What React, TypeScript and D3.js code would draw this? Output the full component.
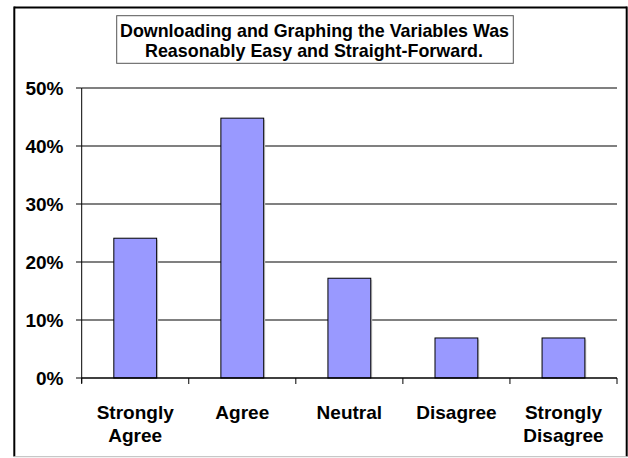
import React from "react";
import * as d3 from "d3";

const categories: string[][] = [
  ["Strongly", "Agree"],
  ["Agree"],
  ["Neutral"],
  ["Disagree"],
  ["Strongly", "Disagree"],
];
const values: number[] = [24.1, 44.8, 17.2, 6.9, 6.9];
const yTicks: number[] = [0, 10, 20, 30, 40, 50];
const titleLines: string[] = [
  "Downloading and Graphing the Variables Was",
  "Reasonably Easy and Straight-Forward.",
];

const W = 628;
const H = 458;
const plot = { left: 81.7, right: 617, top: 88, bottom: 378 };
const FONT = "'Liberation Sans', Arial, sans-serif";

export default function App() {
  const x = d3
    .scaleBand<number>()
    .domain(values.map((_, i) => i))
    .range([plot.left, plot.right])
    .paddingInner(0.6)
    .paddingOuter(0.3);
  const y = d3.scaleLinear().domain([0, 50]).range([plot.bottom, plot.top]);
  const n = values.length;
  const cw = (plot.right - plot.left) / n;
  const boundaries = d3.range(n + 1).map((i) => plot.left + i * cw);
  const centers = values.map((_, i) => (x(i) as number) + x.bandwidth() / 2);
  const bw = cw / 2.5;

  return (
    <svg
      width={W}
      height={H}
      style={{ position: "absolute", left: 0, top: 0, display: "block", background: "#fff" }}
      fontFamily={FONT}
    >
      <rect x={0} y={0} width={W} height={H} fill="#fff" />
      {/* outer border */}
      <line x1={14.3} y1={7.5} x2={626.7} y2={7.5} stroke="#000" strokeWidth={2} />
      <line x1={14.3} y1={6.5} x2={14.3} y2={456.5} stroke="#000" strokeWidth={2} />
      <line x1={626.7} y1={6.5} x2={626.7} y2={456.5} stroke="#000" strokeWidth={2} />
      <line x1={14.3} y1={456.7} x2={626.7} y2={456.7} stroke="#bbb" strokeWidth={1} />

      {/* title */}
      <rect x={116.7} y={15.7} width={396.6} height={47.6} fill="#fff" stroke="#555" strokeWidth={1} />
      <text x={314.5} y={36.7} fontSize={19} fontWeight="bold" textAnchor="middle" textLength={389} lengthAdjust="spacingAndGlyphs">
        {titleLines[0]}
      </text>
      <text x={314} y={56.5} fontSize={19} fontWeight="bold" textAnchor="middle" textLength={338} lengthAdjust="spacingAndGlyphs">
        {titleLines[1]}
      </text>

      {/* gridlines */}
      {yTicks.filter((t) => t > 0).map((t) => (
        <line key={"g" + t} x1={plot.left} x2={plot.right} y1={y(t)} y2={y(t)} stroke="#808080" strokeWidth={2} />
      ))}
      {/* y ticks and labels */}
      {yTicks.map((t) => (
        <g key={"t" + t}>
          <line x1={76} x2={plot.left} y1={y(t)} y2={y(t)} stroke="#000" strokeWidth={1} />
          <text x={63.5} y={y(t)} dy="0.37em" fontSize={19} fontWeight="bold" textAnchor="end">
            {t + "%"}
          </text>
        </g>
      ))}

      {/* bars */}
      {values.map((v, i) => (
        <g key={"b" + i}>
          <rect x={centers[i] - bw / 2 + 1.5} y={y(v) + 1.5} width={bw} height={plot.bottom - y(v) - 1.5} fill="#d0d0d0" />
          <rect x={centers[i] - bw / 2} y={y(v)} width={bw} height={plot.bottom - y(v)} fill="#9999FF" stroke="#000" strokeWidth={1} />
        </g>
      ))}

      {/* axes */}
      <line x1={plot.left} x2={plot.left} y1={plot.top} y2={plot.bottom + 5} stroke="#000" strokeWidth={1} />
      <line x1={plot.left} x2={plot.right} y1={plot.bottom} y2={plot.bottom} stroke="#000" strokeWidth={1.3} />
      {boundaries.map((bx, i) => (
        <line key={"xt" + i} x1={bx} x2={bx} y1={plot.bottom} y2={plot.bottom + 6} stroke="#000" strokeWidth={1} />
      ))}

      {/* category labels */}
      {categories.map((lines, i) => (
        <text key={"c" + i} x={centers[i]} y={418.5} fontSize={19} fontWeight="bold" textAnchor="middle">
          {lines.map((l, j) => (
            <tspan key={j} x={centers[i]} dy={j === 0 ? 0 : 23.4}>
              {l}
            </tspan>
          ))}
        </text>
      ))}
    </svg>
  );
}
